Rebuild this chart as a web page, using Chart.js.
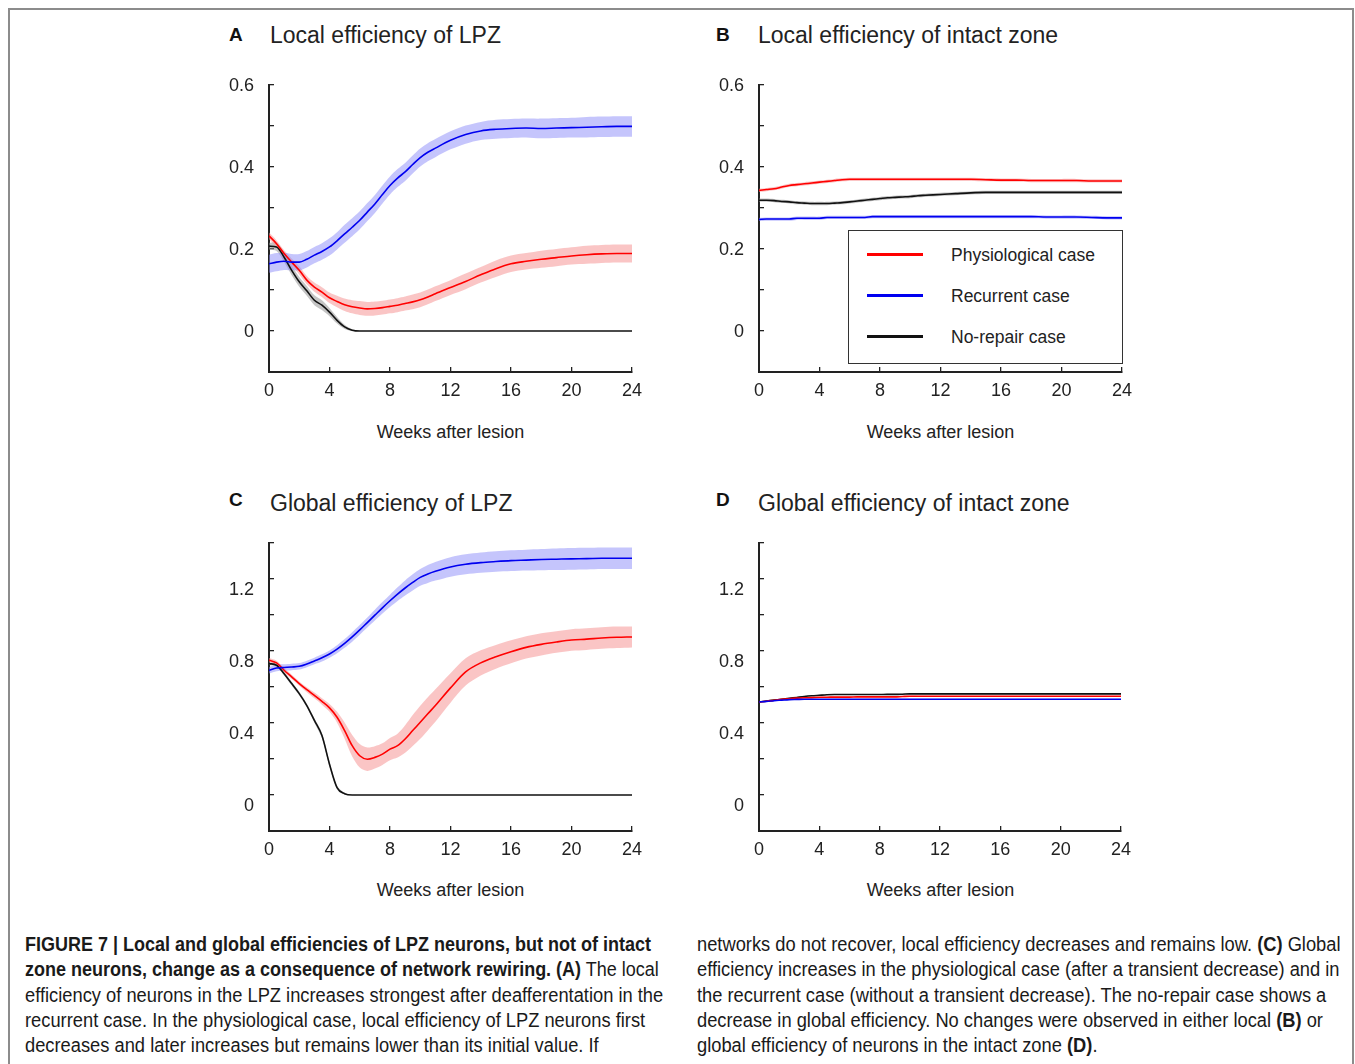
<!DOCTYPE html>
<html>
<head>
<meta charset="utf-8">
<script src="https://cdn.jsdelivr.net/npm/chart.js@4.4.1/dist/chart.umd.min.js"></script>
<style>
  body{margin:0;width:1355px;height:1064px;overflow:hidden;position:relative;background:#fff;
       font-family:"Liberation Sans",Arial,Helvetica,sans-serif;color:#222}
  #frame{position:absolute;left:8px;top:8px;width:1346px;height:1080px;border:2px solid #8c8c8c;box-sizing:border-box}
  .cv{position:absolute}
  .letter{position:absolute;font-weight:bold;font-size:19px;line-height:24px;color:#111}
  .ttl{position:absolute;font-size:23px;line-height:28px;white-space:nowrap}
  .xl{position:absolute;font-size:18px;line-height:22px;width:363px;text-align:center}
  #leg{position:absolute;left:848px;top:230px;width:275px;height:134px;border:1px solid #333;box-sizing:border-box;background:#fff}
  .lrow{position:absolute;left:0;height:24px;width:100%}
  .lline{position:absolute;left:18px;top:10px;width:56px;height:3px}
  .ltxt{position:absolute;left:102px;top:0;font-size:17.5px;line-height:24px;white-space:nowrap}
  .cap{position:absolute;font-size:20px;line-height:25.3px;white-space:nowrap;color:#1a1a1a}
  .cap span{display:block;transform:scaleX(0.915);transform-origin:0 0}
  .cap span.bl{transform:scaleX(0.9)}
  .cap b{font-weight:bold}
</style>
</head>
<body>
<div id="frame"></div>

<div class="letter" style="left:229px;top:23px">A</div>
<div class="ttl" style="left:270px;top:21px">Local efficiency of LPZ</div>
<div class="letter" style="left:716px;top:23px">B</div>
<div class="ttl" style="left:758px;top:21px">Local efficiency of intact zone</div>
<div class="letter" style="left:229px;top:488px">C</div>
<div class="ttl" style="left:270px;top:489px">Global efficiency of LPZ</div>
<div class="letter" style="left:716px;top:488px">D</div>
<div class="ttl" style="left:758px;top:489px">Global efficiency of intact zone</div>

<canvas id="cA" class="cv"></canvas>
<canvas id="cB" class="cv"></canvas>
<canvas id="cC" class="cv"></canvas>
<canvas id="cD" class="cv"></canvas>

<div class="xl" style="left:269px;top:421px">Weeks after lesion</div>
<div class="xl" style="left:759px;top:421px">Weeks after lesion</div>
<div class="xl" style="left:269px;top:879px">Weeks after lesion</div>
<div class="xl" style="left:759px;top:879px">Weeks after lesion</div>

<div id="leg"></div>

<div class="cap" style="left:25px;top:932px">
<span class="bl"><b>FIGURE 7 | Local and global efficiencies of LPZ neurons, but not of intact</b></span>
<span class="bl"><b>zone neurons, change as a consequence of network rewiring. (A)</b> The local</span>
<span>efficiency of neurons in the LPZ increases strongest after deafferentation in the</span>
<span>recurrent case. In the physiological case, local efficiency of LPZ neurons first</span>
<span>decreases and later increases but remains lower than its initial value. If</span>
</div>
<div class="cap" style="left:697px;top:932px">
<span>networks do not recover, local efficiency decreases and remains low. <b>(C)</b> Global</span>
<span>efficiency increases in the physiological case (after a transient decrease) and in</span>
<span>the recurrent case (without a transient decrease). The no-repair case shows a</span>
<span>decrease in global efficiency. No changes were observed in either local <b>(B)</b> or</span>
<span>global efficiency of neurons in the intact zone <b>(D)</b>.</span>
</div>

<script>
// ---- data ----
const weeks = [0,0.5,1,1.5,2,2.5,3,3.5,4,4.5,5,5.5,6,6.5,7,7.5,8,8.5,9,9.5,10,10.5,11,12,13,14,15,16,17,18,19,20,21,22,23,24];
const caseNames = ['Physiological case','Recurrent case','No-repair case'];

// A: local efficiency of LPZ
const aPhys    = [0.232,0.213,0.189,0.168,0.148,0.124,0.107,0.095,0.081,0.072,0.064,0.059,0.056,0.054,0.055,0.057,0.060,0.063,0.067,0.071,0.076,0.083,0.091,0.106,0.121,0.137,0.152,0.164,0.170,0.175,0.179,0.183,0.186,0.188,0.189,0.189];
const aPhysSd  = [0.008,0.008,0.008,0.009,0.010,0.010,0.011,0.012,0.013,0.014,0.015,0.016,0.017,0.017,0.017,0.017,0.017,0.017,0.017,0.018,0.018,0.018,0.018,0.018,0.019,0.019,0.020,0.020,0.020,0.021,0.021,0.021,0.022,0.022,0.022,0.022];
const aRec     = [0.164,0.168,0.170,0.168,0.168,0.175,0.185,0.194,0.205,0.220,0.237,0.253,0.270,0.290,0.310,0.333,0.355,0.373,0.388,0.406,0.423,0.436,0.446,0.465,0.479,0.488,0.492,0.494,0.495,0.494,0.495,0.496,0.497,0.498,0.499,0.499];
const aRecSd   = [0.022,0.022,0.021,0.020,0.020,0.020,0.020,0.020,0.021,0.021,0.022,0.022,0.022,0.022,0.022,0.022,0.022,0.022,0.022,0.022,0.022,0.022,0.022,0.022,0.022,0.022,0.023,0.023,0.023,0.024,0.024,0.024,0.025,0.025,0.025,0.025];
const aNone    = [0.207,0.205,0.180,0.148,0.120,0.098,0.075,0.063,0.046,0.026,0.010,0.002,0,0,0,0,0,0,0,0,0,0,0,0,0,0,0,0,0,0,0,0,0,0,0,0];
const aNoneSd  = [0.008,0.010,0.012,0.012,0.012,0.012,0.012,0.012,0.010,0.008,0.005,0.002,0,0,0,0,0,0,0,0,0,0,0,0,0,0,0,0,0,0,0,0,0,0,0,0];

// B: local efficiency of intact zone
const bPhys    = [0.343,0.345,0.347,0.351,0.355,0.357,0.359,0.361,0.363,0.365,0.367,0.369,0.370,0.370,0.370,0.370,0.370,0.370,0.370,0.370,0.370,0.370,0.370,0.370,0.370,0.370,0.369,0.368,0.368,0.367,0.367,0.367,0.367,0.366,0.366,0.366];
const bRec     = [0.272,0.273,0.273,0.273,0.273,0.275,0.275,0.275,0.275,0.277,0.277,0.277,0.277,0.277,0.277,0.279,0.279,0.279,0.279,0.279,0.279,0.279,0.279,0.279,0.279,0.279,0.279,0.279,0.279,0.279,0.278,0.278,0.278,0.277,0.276,0.276];
const bNone    = [0.319,0.319,0.318,0.316,0.315,0.313,0.312,0.311,0.311,0.311,0.312,0.313,0.315,0.317,0.319,0.321,0.323,0.325,0.326,0.327,0.328,0.330,0.331,0.333,0.335,0.337,0.338,0.338,0.338,0.338,0.338,0.338,0.338,0.338,0.338,0.338];
const bSd      = [0.004,0.004,0.004,0.004,0.004,0.004,0.004,0.004,0.004,0.004,0.004,0.004,0.004,0.004,0.004,0.004,0.004,0.004,0.004,0.004,0.004,0.004,0.004,0.004,0.004,0.004,0.004,0.004,0.004,0.004,0.004,0.004,0.004,0.004,0.004,0.004];

// C: global efficiency of LPZ
const cPhys    = [0.749,0.734,0.693,0.656,0.619,0.585,0.553,0.520,0.484,0.432,0.358,0.274,0.218,0.199,0.209,0.227,0.255,0.274,0.311,0.358,0.404,0.451,0.497,0.595,0.684,0.734,0.768,0.796,0.820,0.837,0.850,0.861,0.866,0.872,0.876,0.878];
const cPhysSd  = [0.012,0.012,0.012,0.012,0.012,0.014,0.016,0.018,0.022,0.030,0.045,0.060,0.065,0.065,0.062,0.060,0.062,0.066,0.076,0.086,0.092,0.092,0.090,0.082,0.076,0.070,0.066,0.064,0.062,0.062,0.060,0.060,0.060,0.060,0.060,0.058];
const cRec     = [0.693,0.706,0.708,0.711,0.715,0.728,0.745,0.762,0.783,0.810,0.842,0.878,0.917,0.958,0.999,1.040,1.079,1.116,1.150,1.181,1.209,1.228,1.243,1.267,1.282,1.291,1.297,1.302,1.305,1.308,1.310,1.312,1.313,1.315,1.315,1.315];
const cRecSd   = [0.018,0.018,0.018,0.018,0.018,0.018,0.018,0.020,0.020,0.022,0.024,0.026,0.027,0.028,0.030,0.032,0.034,0.038,0.042,0.045,0.047,0.050,0.052,0.054,0.055,0.056,0.057,0.058,0.058,0.059,0.060,0.060,0.060,0.060,0.060,0.060];
const cNone    = [0.730,0.721,0.674,0.619,0.563,0.497,0.414,0.330,0.171,0.041,0.007,0,0,0,0,0,0,0,0,0,0,0,0,0,0,0,0,0,0,0,0,0,0,0,0,0];
const cNoneSd  = [0.008,0.008,0.010,0.010,0.010,0.010,0.012,0.014,0.014,0.010,0.004,0,0,0,0,0,0,0,0,0,0,0,0,0,0,0,0,0,0,0,0,0,0,0,0,0];

// D: global efficiency of intact zone
const dPhys    = [0.517,0.521,0.526,0.531,0.535,0.538,0.540,0.541,0.543,0.543,0.544,0.544,0.544,0.545,0.545,0.545,0.545,0.545,0.545,0.547,0.549,0.549,0.549,0.549,0.549,0.549,0.549,0.549,0.549,0.549,0.549,0.549,0.549,0.549,0.549,0.549];
const dRec     = [0.517,0.520,0.524,0.527,0.530,0.531,0.532,0.532,0.532,0.532,0.532,0.532,0.532,0.532,0.532,0.532,0.532,0.532,0.532,0.532,0.532,0.532,0.532,0.532,0.532,0.532,0.532,0.532,0.532,0.532,0.532,0.532,0.532,0.532,0.532,0.532];
const dNone    = [0.517,0.522,0.527,0.532,0.537,0.542,0.547,0.551,0.554,0.557,0.558,0.558,0.558,0.558,0.558,0.558,0.558,0.559,0.559,0.560,0.562,0.562,0.562,0.562,0.562,0.562,0.562,0.562,0.562,0.562,0.562,0.562,0.562,0.562,0.562,0.562];
const dSd      = [0.003,0.003,0.003,0.003,0.003,0.003,0.003,0.003,0.003,0.003,0.003,0.003,0.003,0.003,0.003,0.003,0.003,0.003,0.003,0.003,0.003,0.003,0.003,0.003,0.003,0.003,0.003,0.003,0.003,0.003,0.003,0.003,0.003,0.003,0.003,0.003];

// ---- styling ----
const LINE = ['#ff0000','#0000f0','#111111'];
const BAND = ['rgba(245,150,150,0.55)','rgba(140,140,250,0.5)','rgba(150,150,150,0.55)'];
const INK = '#222';
const FONT = '"Liberation Sans", Arial, sans-serif';

function pts(ys, off, sign){
  return ys.map((v,i) => ({x: weeks[i], y: v + (off ? sign*off[i] : 0)}));
}

function makePanel(id, area, yMin, yMax, yStep, labelFn, labelOffset, series){
  const cv = document.getElementById(id);
  const padL = 60, padT = 15, padR = 15, padB = 30;
  const w = area.r - area.l + padL + padR, h = area.b - area.t + padT + padB;
  cv.style.left = (area.l - padL) + 'px';
  cv.style.top  = (area.t - padT) + 'px';
  cv.width = w; cv.height = h;
  cv.style.width = w + 'px'; cv.style.height = h + 'px';

  const ds = [];
  series.forEach((s, k) => {
    ds.push({ data: pts(s.mean, s.sd, 1), borderWidth: 0, pointRadius: 0, fill: false, order: 5 + k, tension: 0.3 });
    ds.push({ data: pts(s.mean, s.sd, -1), borderWidth: 0, pointRadius: 0, fill: '-1', backgroundColor: BAND[s.c], order: 5 + k, tension: 0.3 });
  });
  series.forEach((s, k) => {
    ds.push({ data: pts(s.mean), borderColor: LINE[s.c], borderWidth: 1.6, pointRadius: 0, fill: false, order: k, cubicInterpolationMode: 'monotone' });
  });

  new Chart(cv, {
    type: 'line',
    data: { datasets: ds },
    options: {
      responsive: false, animation: false, devicePixelRatio: 1,
      layout: { padding: { left: 0, top: padT, right: padR, bottom: 0 } },
      plugins: { legend: { display: false }, tooltip: { enabled: false } },
      scales: {
        x: {
          type: 'linear', min: 0, max: 24,
          ticks: { stepSize: 4, color: INK, font: { size: 18, family: FONT }, padding: 13, maxRotation: 0, autoSkip: false },
          grid: { drawOnChartArea: false, drawTicks: true, tickLength: -5, color: INK, lineWidth: 1.3 },
          border: { color: INK, width: 2 },
          afterFit: s => { s.height = padB; s.paddingLeft = 0; s.paddingRight = 0; }
        },
        y: {
          min: yMin, max: yMax,
          ticks: { stepSize: yStep, color: INK, font: { size: 18, family: FONT }, padding: 20, autoSkip: false,
                   labelOffset: labelOffset, callback: labelFn },
          grid: { drawOnChartArea: false, drawTicks: true, tickLength: -5, color: INK, lineWidth: 1.3 },
          border: { color: INK, width: 2 },
          afterFit: s => { s.width = padL; s.paddingTop = 0; s.paddingBottom = 0; }
        }
      }
    }
  });
}

const localLabel = v => { const k = Math.round(v * 10); return (k >= 0 && k % 2 === 0) ? (k === 0 ? '0' : (k / 10).toFixed(1)) : ''; };
const globalLabel = v => { const k = Math.round(v * 5); return (k >= 0 && k <= 6 && k % 2 === 0) ? (k === 0 ? '0' : (k / 5).toFixed(1)) : ''; };

makePanel('cA', {l:269, r:632, t:85, b:372}, -0.1, 0.6, 0.1, localLabel, 1, [
  {mean: aRec, sd: aRecSd, c: 1}, {mean: aPhys, sd: aPhysSd, c: 0}, {mean: aNone, sd: aNoneSd, c: 2}
]);
makePanel('cB', {l:759, r:1122, t:85, b:372}, -0.1, 0.6, 0.1, localLabel, 1, [
  {mean: bPhys, sd: bSd, c: 0}, {mean: bNone, sd: bSd, c: 2}, {mean: bRec, sd: bSd, c: 1}
]);
makePanel('cC', {l:269, r:632, t:543, b:831}, -0.2, 1.4, 0.2, globalLabel, 11, [
  {mean: cRec, sd: cRecSd, c: 1}, {mean: cPhys, sd: cPhysSd, c: 0}, {mean: cNone, sd: cNoneSd, c: 2}
]);
makePanel('cD', {l:759, r:1121, t:543, b:831}, -0.2, 1.4, 0.2, globalLabel, 11, [
  {mean: dRec, sd: dSd, c: 1}, {mean: dPhys, sd: dSd, c: 0}, {mean: dNone, sd: dSd, c: 2}
]);

// ---- legend in panel B ----
const leg = document.getElementById('leg');
caseNames.forEach((name, i) => {
  const row = document.createElement('div');
  row.className = 'lrow';
  row.style.top = (12 + i * 41) + 'px';
  row.innerHTML = '<div class="lline" style="background:' + LINE[i] + '"></div><div class="ltxt">' + name + '</div>';
  leg.appendChild(row);
});
</script>
</body>
</html>
